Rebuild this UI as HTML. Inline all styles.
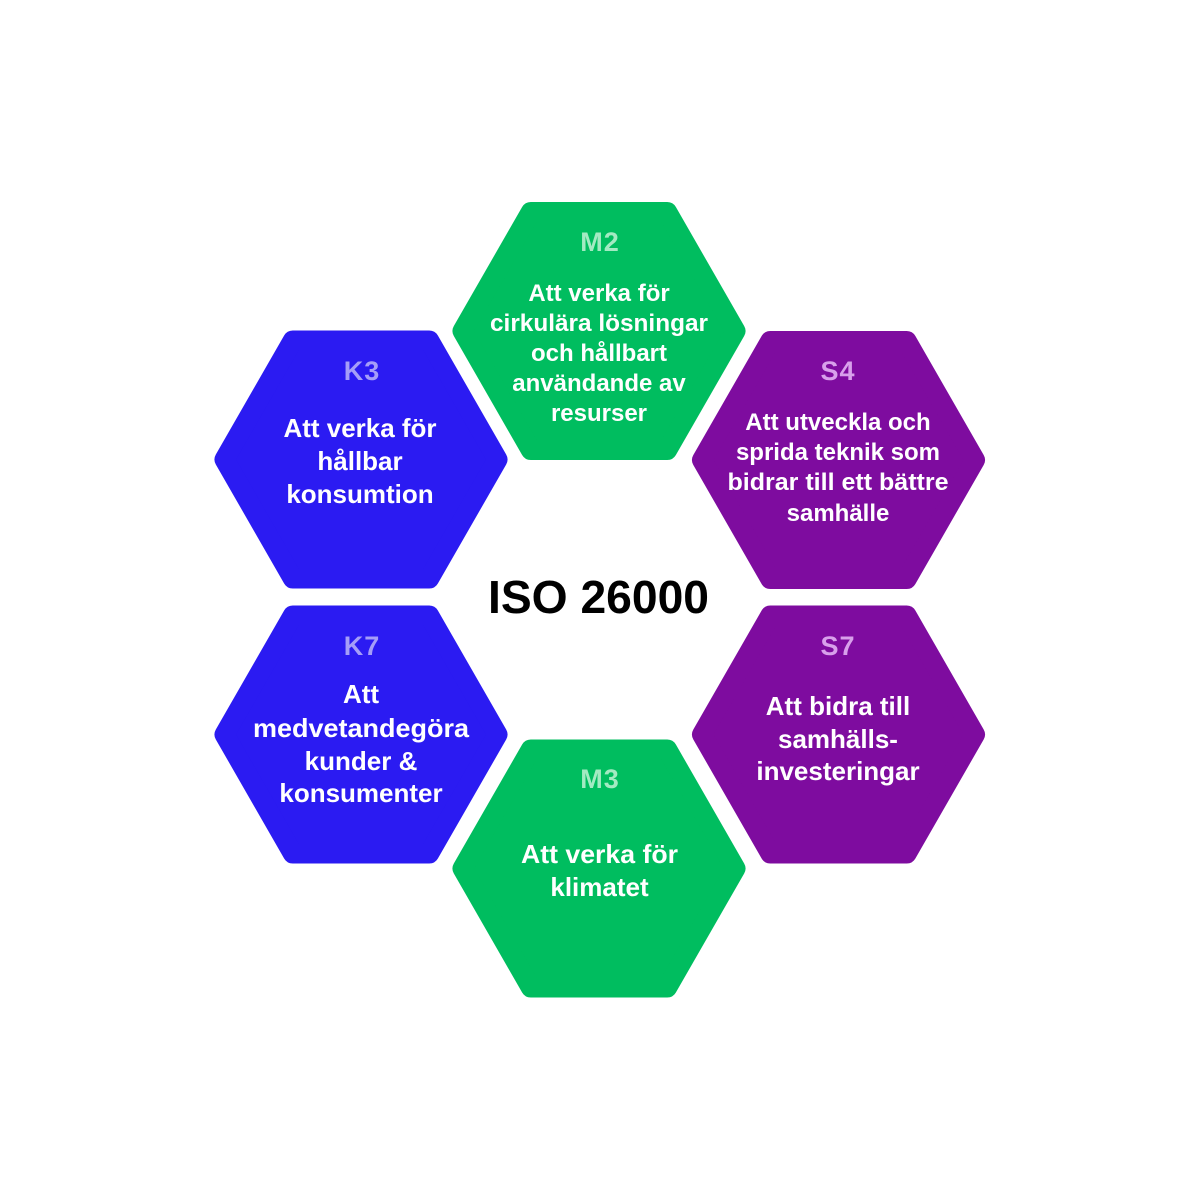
<!DOCTYPE html>
<html>
<head>
<meta charset="utf-8">
<style>
  html, body { margin:0; padding:0; background:#ffffff; }
  body { width:1200px; height:1200px; overflow:hidden; }
  svg { display:block; }
  text { font-family: "Liberation Sans", "DejaVu Sans", sans-serif; font-weight: bold; text-anchor: middle; }
  .t24 { font-size:24px; fill:#ffffff; }
  .t26 { font-size:26px; fill:#ffffff; }
  .lab { font-size:27px; letter-spacing:1px; }
</style>
</head>
<body>
<svg width="1200" height="1200" viewBox="0 0 1200 1200" xmlns="http://www.w3.org/2000/svg">
  <defs>
    <polygon id="hex" points="-136.5,0 -68.2,-119 68.2,-119 136.5,0 68.2,119 -68.2,119" stroke-width="20" stroke-linejoin="round"/>
  </defs>

  <!-- M2 -->
  <g transform="translate(599,331)">
    <use href="#hex" fill="#00BD5F" stroke="#00BD5F"/>
  </g>
  <!-- K3 -->
  <g transform="translate(361,459.5)">
    <use href="#hex" fill="#2B1BF2" stroke="#2B1BF2"/>
  </g>
  <!-- S4 -->
  <g transform="translate(838.5,460)">
    <use href="#hex" fill="#7E0C9F" stroke="#7E0C9F"/>
  </g>
  <!-- K7 -->
  <g transform="translate(361,734.5)">
    <use href="#hex" fill="#2B1BF2" stroke="#2B1BF2"/>
  </g>
  <!-- S7 -->
  <g transform="translate(838.5,734.5)">
    <use href="#hex" fill="#7E0C9F" stroke="#7E0C9F"/>
  </g>
  <!-- M3 -->
  <g transform="translate(599,868.5)">
    <use href="#hex" fill="#00BD5F" stroke="#00BD5F"/>
  </g>

  <!-- M2 text -->
  <text class="lab" x="600" y="251" fill="#A3EAC2">M2</text>
  <text class="t24" x="599" y="301">Att verka för</text>
  <text class="t24" x="599" y="331" textLength="218" lengthAdjust="spacingAndGlyphs">cirkulära lösningar</text>
  <text class="t24" x="599" y="361">och hållbart</text>
  <text class="t24" x="599" y="391">användande av</text>
  <text class="t24" x="599" y="421">resurser</text>

  <!-- K3 text -->
  <text class="lab" x="362" y="380" fill="#A59EF8">K3</text>
  <text class="t26" x="360" y="437" textLength="153" lengthAdjust="spacingAndGlyphs">Att verka för</text>
  <text class="t26" x="360" y="470">hållbar</text>
  <text class="t26" x="360" y="503">konsumtion</text>

  <!-- S4 text -->
  <text class="lab" x="838" y="380" fill="#D8A0EB">S4</text>
  <text class="t24" x="838" y="430">Att utveckla och</text>
  <text class="t24" x="838" y="460">sprida teknik som</text>
  <text class="t24" x="838" y="490" textLength="221" lengthAdjust="spacingAndGlyphs">bidrar till ett bättre</text>
  <text class="t24" x="838" y="521">samhälle</text>

  <!-- K7 text -->
  <text class="lab" x="362" y="655" fill="#A59EF8">K7</text>
  <text class="t26" x="361" y="703">Att</text>
  <text class="t26" x="361" y="737" textLength="216" lengthAdjust="spacingAndGlyphs">medvetandegöra</text>
  <text class="t26" x="361" y="770">kunder &amp;</text>
  <text class="t26" x="361" y="802">konsumenter</text>

  <!-- S7 text -->
  <text class="lab" x="838" y="655" fill="#D8A0EB">S7</text>
  <text class="t26" x="838" y="715">Att bidra till</text>
  <text class="t26" x="838" y="748">samhälls-</text>
  <text class="t26" x="838" y="780">investeringar</text>

  <!-- M3 text -->
  <text class="lab" x="600" y="788" fill="#A3EAC2">M3</text>
  <text class="t26" x="599.5" y="863" textLength="157" lengthAdjust="spacingAndGlyphs">Att verka för</text>
  <text class="t26" x="599.5" y="896">klimatet</text>

  <!-- Center title -->
  <text x="598.5" y="613" font-size="46" fill="#000000" textLength="221" lengthAdjust="spacingAndGlyphs">ISO 26000</text>
</svg>
</body>
</html>
